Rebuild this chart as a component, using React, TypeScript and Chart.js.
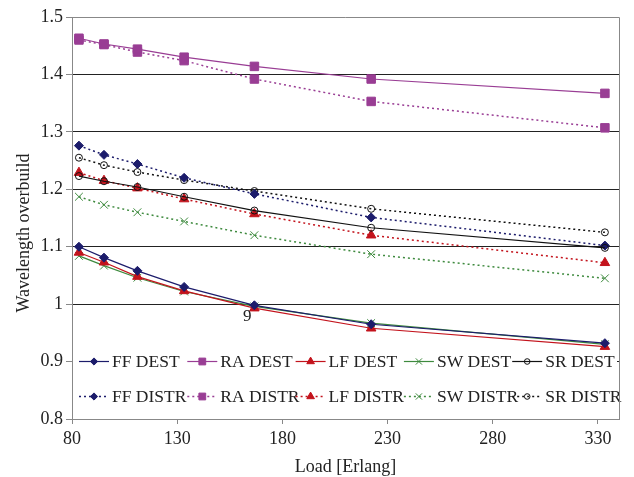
import React, { useEffect, useRef } from 'react';
import { Chart, registerables } from 'chart.js';
import { drawPoint } from 'chart.js/helpers';

Chart.register(...registerables);

// ---- data ----
const loads = [83.3, 95.2, 111.1, 133.3, 166.7, 222.2, 333.3];

const ffDest = [1.100, 1.081, 1.058, 1.030, 0.998, 0.965, 0.932];
const raDest = [1.463, 1.453, 1.444, 1.430, 1.414, 1.392, 1.367];
const lfDest = [1.090, 1.073, 1.048, 1.023, 0.993, 0.958, 0.926];
const swDest = [1.084, 1.067, 1.046, 1.022, 0.996, 0.967, 0.930];
const srDest = [1.223, 1.214, 1.204, 1.187, 1.163, 1.133, 1.098];

const ffDistr = [1.276, 1.260, 1.244, 1.220, 1.192, 1.151, 1.102];
const raDistr = [1.460, 1.452, 1.439, 1.424, 1.392, 1.353, 1.307];
const lfDistr = [1.229, 1.215, 1.202, 1.183, 1.157, 1.120, 1.072];
const swDistr = [1.187, 1.173, 1.160, 1.144, 1.120, 1.087, 1.045];
const srDistr = [1.255, 1.242, 1.230, 1.216, 1.197, 1.166, 1.125];

const seriesNames = [
  'FF DEST', 'RA DEST', 'LF DEST', 'SW DEST', 'SR DEST',
  'FF DISTR', 'RA DISTR', 'LF DISTR', 'SW DISTR', 'SR DISTR',
];
const seriesValues = [ffDest, raDest, lfDest, swDest, srDest, ffDistr, raDistr, lfDistr, swDistr, srDistr];

const xTicks = [80, 130, 180, 230, 280, 330];
const yTicks = [0.8, 0.9, 1, 1.1, 1.2, 1.3, 1.4, 1.5];
const yTickLabels = ['0.8', '0.9', '1', '1.1', '1.2', '1.3', '1.4', '1.5'];
const xTitle = 'Load [Erlang]';
const yTitle = 'Wavelength overbuild';
const strayLabel = '9';
const strayAt = [163.3, 0.978];

// ---- styles ----
const FONT = '"Liberation Serif", "Times New Roman", serif';
const families = [
  { color: '#1c1c6b', style: 'rectRot', radius: 4.5, fill: true },
  { color: '#993d94', style: 'rect', radius: 6, fill: true },
  { color: '#c3131c', style: 'triangle', radius: 5.5, fill: true },
  { color: '#3e8a3e', style: 'crossRot', radius: 5.5, fill: false },
  { color: '#111111', style: 'circle', radius: 3.5, fill: false },
];
const DOT = [2, 3];

function styleFor(i: number) {
  return { fam: families[i % 5], dotted: i >= 5 };
}

const overlayPlugin = {
  id: 'overlay',
  beforeDatasetsDraw(chart: any) {
    const { ctx, chartArea: a } = chart;
    ctx.save();
    ctx.fillStyle = '#ffffff';
    ctx.fillRect(a.left + 1, 350, a.right - a.left - 3, 66);
    // legend
    const colX0 = 79;
    const colStep = 108.3;
    const rowY = [361.5, 396.5];
    seriesNames.forEach((name, i) => {
      const { fam, dotted } = styleFor(i);
      const col = i % 5;
      const row = i < 5 ? 0 : 1;
      const x0 = colX0 + col * colStep;
      const y = rowY[row];
      ctx.strokeStyle = fam.color;
      ctx.lineWidth = dotted ? 1.5 : 1.2;
      ctx.setLineDash(dotted ? DOT : []);
      ctx.beginPath();
      ctx.moveTo(x0, y);
      ctx.lineTo(x0 + 30, y);
      ctx.stroke();
      ctx.setLineDash([]);
      ctx.fillStyle = fam.fill ? fam.color : 'rgba(0,0,0,0)';
      ctx.strokeStyle = fam.color;
      ctx.lineWidth = 1;
      drawPoint(ctx, { pointStyle: fam.style, radius: fam.radius * 0.8, rotation: 0, borderWidth: 1 } as any, x0 + 15, y);
      ctx.fillStyle = '#222';
      ctx.font = `17.5px ${FONT}`;
      ctx.textAlign = 'left';
      ctx.textBaseline = 'middle';
      ctx.fillText(name, x0 + 33, y + 1);
    });
    ctx.restore();
  },
  afterDraw(chart: any) {
    const { ctx, chartArea: a, scales } = chart;
    ctx.save();
    ctx.strokeStyle = '#888';
    ctx.lineWidth = 1;
    ctx.setLineDash([]);
    ctx.beginPath();
    ctx.moveTo(a.left, a.top + 0.5);
    ctx.lineTo(a.right + 0.5, a.top + 0.5);
    ctx.lineTo(a.right + 0.5, a.bottom);
    ctx.stroke();

    ctx.fillStyle = '#222';
    ctx.font = `18px ${FONT}`;
    ctx.textAlign = 'center';
    ctx.textBaseline = 'alphabetic';
    ctx.fillText(xTitle, (a.left + a.right) / 2, 471.5);

    ctx.save();
    ctx.translate(28.5, 233);
    ctx.rotate(-Math.PI / 2);
    ctx.fillText(yTitle, 0, 0);
    ctx.restore();

    ctx.font = `17px ${FONT}`;
    ctx.textBaseline = 'middle';
    ctx.fillText(strayLabel, scales.x.getPixelForValue(strayAt[0]), scales.y.getPixelForValue(strayAt[1]));
    ctx.restore();
  },
};

export default function App() {
  const ref = useRef<HTMLCanvasElement>(null);
  useEffect(() => {
    if (!ref.current) return;
    Chart.defaults.font.family = FONT;
    Chart.defaults.font.size = 18;
    Chart.defaults.color = '#222';
    const datasets = seriesValues.map((vals, i) => {
      const { fam, dotted } = styleFor(i);
      return {
        label: seriesNames[i],
        data: loads.map((x, k) => ({ x, y: vals[k] })),
        borderColor: fam.color,
        backgroundColor: fam.color,
        borderWidth: dotted ? 1.5 : 1.2,
        borderDash: dotted ? DOT : [],
        tension: 0,
        pointStyle: fam.style,
        pointRadius: fam.radius,
        pointBackgroundColor: fam.fill ? fam.color : 'rgba(0,0,0,0)',
        pointBorderColor: fam.color,
        pointBorderWidth: 1,
        fill: false,
      };
    });
    const chart = new Chart(ref.current, {
      type: 'line',
      data: { datasets },
      options: {
        animation: false,
        responsive: false,
        layout: { padding: { top: 17, right: 15, left: 0, bottom: 0 } },
        plugins: { legend: { display: false }, tooltip: { enabled: false } },
        scales: {
          x: {
            type: 'linear',
            min: 80,
            max: 340,
            afterBuildTicks: (s: any) => { s.ticks = xTicks.map((v) => ({ value: v })); },
            afterFit: (s: any) => { s.height = 58; },
            grid: { drawOnChartArea: false, drawTicks: true, tickLength: 5, tickColor: '#888', color: '#888' },
            border: { color: '#888', width: 1 },
            ticks: { padding: 4, color: '#222', font: { size: 18 }, maxRotation: 0, autoSkip: false, callback: (v: any) => String(v) },
          },
          y: {
            type: 'linear',
            min: 0.8,
            max: 1.5,
            afterBuildTicks: (s: any) => { s.ticks = yTicks.map((v) => ({ value: v })); },
            afterFit: (s: any) => { s.width = 72; },
            grid: {
              color: (c: any) => (c.tick && (c.tick.value === 0.8 || c.tick.value === 1.5)) ? 'rgba(0,0,0,0)' : '#222',
              tickColor: '#888',
              tickLength: 6,
              lineWidth: 1,
            },
            border: { color: '#888', width: 1 },
            ticks: { padding: 3, color: '#222', font: { size: 18 }, callback: (_v: any, i: number) => yTickLabels[i] },
          },
        },
      },
      plugins: [overlayPlugin],
    } as any);
    return () => chart.destroy();
  }, []);
  return (
    <div style={{ position: 'fixed', left: 0, top: 0, width: 634, height: 477, background: '#fff' }}>
      <canvas ref={ref} width={634} height={477} style={{ display: 'block' }} />
    </div>
  );
}
